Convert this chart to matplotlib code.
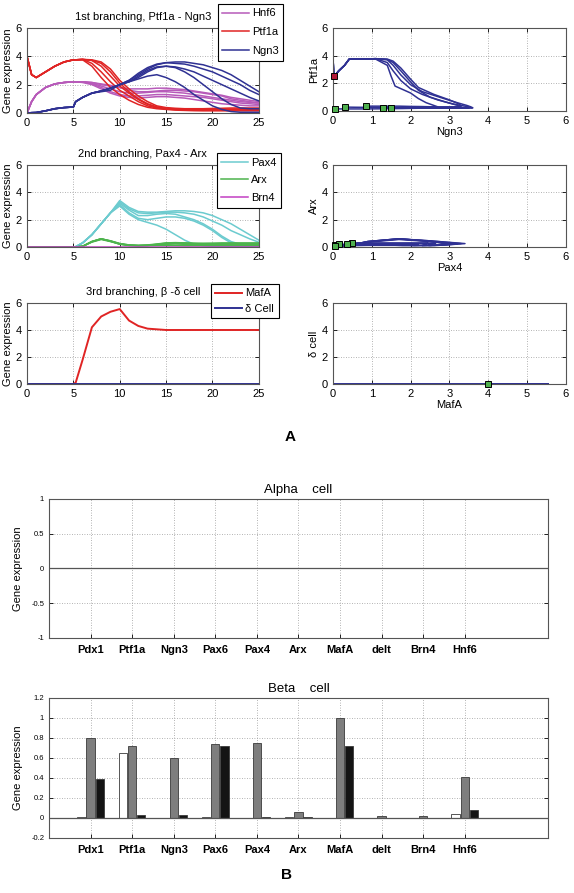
import matplotlib
matplotlib.use('Agg')
import matplotlib.pyplot as plt
import numpy as np

plt.rcParams['font.family'] = ['Liberation Sans', 'DejaVu Sans']

# Zeitachse der Simulation
t = [0, 0.5, 1, 2, 3, 4, 5, 5.25, 6, 7, 8, 9, 10, 11, 12, 13, 14, 15, 16, 17, 18, 19, 20, 21, 22, 23, 24, 25]

# 1. Verzweigung: Hnf6, Ptf1a, Ngn3 (5 Zellen)
hnf6 = [
    [0, 0.8, 1.3, 1.8, 2.05, 2.15, 2.2, 2.2, 2.2, 2.1, 1.9, 1.7, 1.5, 1.4, 1.4, 1.45, 1.5, 1.5, 1.45, 1.4, 1.3, 1.2, 1.1, 1.0, 0.9, 0.8, 0.75, 0.7],
    [0, 0.8, 1.3, 1.8, 2.05, 2.15, 2.2, 2.2, 2.2, 2.15, 2.0, 1.9, 1.8, 1.7, 1.7, 1.7, 1.75, 1.75, 1.7, 1.65, 1.55, 1.45, 1.35, 1.25, 1.1, 1.0, 0.9, 0.8],
    [0, 0.8, 1.3, 1.8, 2.05, 2.15, 2.2, 2.2, 2.2, 2.05, 1.8, 1.5, 1.3, 1.2, 1.2, 1.25, 1.3, 1.3, 1.25, 1.2, 1.15, 1.1, 1.0, 0.9, 0.8, 0.7, 0.65, 0.6],
    [0, 0.8, 1.3, 1.8, 2.05, 2.15, 2.2, 2.2, 2.2, 2.15, 2.05, 1.95, 1.8, 1.6, 1.5, 1.5, 1.55, 1.6, 1.6, 1.55, 1.5, 1.4, 1.3, 1.2, 1.0, 0.9, 0.8, 0.7],
    [0, 0.8, 1.3, 1.8, 2.05, 2.15, 2.2, 2.2, 2.15, 2.0, 1.7, 1.4, 1.2, 1.1, 1.05, 1.1, 1.15, 1.15, 1.1, 1.05, 0.95, 0.85, 0.75, 0.65, 0.6, 0.55, 0.5, 0.5],
]
ptf1a = [
    [4.0, 2.7, 2.5, 2.9, 3.3, 3.6, 3.75, 3.75, 3.78, 3.5, 2.9, 2.2, 1.6, 1.2, 0.8, 0.5, 0.35, 0.28, 0.24, 0.22, 0.2, 0.2, 0.2, 0.2, 0.2, 0.2, 0.2, 0.2],
    [4.0, 2.7, 2.5, 2.9, 3.3, 3.6, 3.75, 3.75, 3.78, 3.7, 3.3, 2.6, 1.9, 1.4, 0.95, 0.6, 0.4, 0.3, 0.27, 0.25, 0.25, 0.25, 0.25, 0.25, 0.25, 0.25, 0.25, 0.25],
    [4.0, 2.7, 2.5, 2.9, 3.3, 3.6, 3.75, 3.75, 3.78, 3.75, 3.6, 3.1, 2.3, 1.7, 1.2, 0.8, 0.5, 0.38, 0.33, 0.3, 0.3, 0.3, 0.32, 0.33, 0.35, 0.35, 0.35, 0.35],
    [4.0, 2.7, 2.5, 2.9, 3.3, 3.6, 3.75, 3.75, 3.78, 3.72, 3.5, 2.9, 2.1, 1.5, 1.0, 0.65, 0.42, 0.32, 0.28, 0.26, 0.25, 0.25, 0.25, 0.26, 0.27, 0.28, 0.28, 0.28],
    [4.0, 2.7, 2.5, 2.9, 3.3, 3.6, 3.75, 3.75, 3.75, 3.3, 2.5, 1.8, 1.3, 0.9, 0.6, 0.4, 0.3, 0.25, 0.2, 0.18, 0.16, 0.15, 0.15, 0.15, 0.15, 0.15, 0.15, 0.15],
]
ngn3 = [
    [0, 0.02, 0.03, 0.15, 0.3, 0.38, 0.42, 0.8, 1.1, 1.4, 1.55, 1.75, 2.0, 2.3, 2.7, 3.1, 3.4, 3.55, 3.6, 3.6, 3.5, 3.4, 3.2, 3.0, 2.7, 2.3, 1.9, 1.5],
    [0, 0.02, 0.03, 0.15, 0.3, 0.38, 0.42, 0.8, 1.1, 1.4, 1.55, 1.75, 2.0, 2.3, 2.8, 3.2, 3.45, 3.55, 3.5, 3.45, 3.3, 3.1, 2.9, 2.6, 2.3, 2.0, 1.6, 1.3],
    [0, 0.02, 0.03, 0.15, 0.3, 0.38, 0.42, 0.8, 1.1, 1.4, 1.55, 1.75, 2.0, 2.2, 2.6, 3.0, 3.25, 3.3, 3.25, 3.1, 2.9, 2.6, 2.3, 2.0, 1.7, 1.4, 1.1, 0.85],
    [0, 0.02, 0.03, 0.15, 0.3, 0.38, 0.42, 0.8, 1.1, 1.4, 1.55, 1.75, 2.0, 2.2, 2.5, 2.9, 3.2, 3.3, 3.2, 2.9, 2.5, 2.0, 1.5, 1.0, 0.6, 0.35, 0.3, 0.3],
    [0, 0.02, 0.03, 0.15, 0.3, 0.38, 0.42, 0.8, 1.1, 1.4, 1.5, 1.6, 2.0, 2.2, 2.4, 2.6, 2.7, 2.5, 2.2, 1.8, 1.3, 0.9, 0.5, 0.25, 0.1, 0.05, 0.05, 0.05],
]

# 2. Verzweigung: Pax4, Arx, Brn4
pax4 = [
    [0, 0, 0, 0, 0, 0, 0, 0.02, 0.3, 0.9, 1.7, 2.5, 3.4, 2.9, 2.6, 2.55, 2.55, 2.6, 2.65, 2.65, 2.6, 2.5, 2.3, 2.0, 1.7, 1.3, 0.9, 0.5],
    [0, 0, 0, 0, 0, 0, 0, 0.02, 0.3, 0.9, 1.7, 2.5, 3.3, 2.8, 2.5, 2.45, 2.5, 2.55, 2.55, 2.5, 2.4, 2.2, 1.9, 1.6, 1.2, 0.9, 0.6, 0.35],
    [0, 0, 0, 0, 0, 0, 0, 0.02, 0.3, 0.9, 1.7, 2.5, 3.1, 2.5, 2.1, 2.0, 2.1, 2.2, 2.2, 2.1, 1.9, 1.6, 1.2, 0.7, 0.3, 0.1, 0.05, 0.05],
    [0, 0, 0, 0, 0, 0, 0, 0.02, 0.3, 0.9, 1.7, 2.5, 3.2, 2.7, 2.3, 2.3, 2.4, 2.45, 2.4, 2.2, 2.0, 1.7, 1.3, 0.8, 0.4, 0.2, 0.15, 0.15],
    [0, 0, 0, 0, 0, 0, 0, 0.02, 0.3, 0.9, 1.7, 2.5, 3.0, 2.4, 2.0, 1.8, 1.6, 1.3, 0.9, 0.5, 0.2, 0.1, 0.05, 0.05, 0.05, 0.05, 0.05, 0.05],
]
arx = [
    [0, 0, 0, 0, 0, 0, 0, 0, 0.05, 0.4, 0.6, 0.45, 0.25, 0.15, 0.12, 0.15, 0.22, 0.3, 0.32, 0.3, 0.28, 0.27, 0.28, 0.3, 0.3, 0.3, 0.3, 0.3],
    [0, 0, 0, 0, 0, 0, 0, 0, 0.05, 0.38, 0.58, 0.45, 0.25, 0.15, 0.1, 0.12, 0.18, 0.25, 0.28, 0.27, 0.25, 0.25, 0.25, 0.25, 0.25, 0.25, 0.25, 0.25],
    [0, 0, 0, 0, 0, 0, 0, 0, 0.05, 0.4, 0.6, 0.42, 0.22, 0.12, 0.1, 0.12, 0.15, 0.2, 0.22, 0.2, 0.18, 0.16, 0.15, 0.15, 0.15, 0.15, 0.15, 0.15],
    [0, 0, 0, 0, 0, 0, 0, 0, 0.05, 0.36, 0.55, 0.4, 0.22, 0.12, 0.1, 0.12, 0.2, 0.28, 0.3, 0.28, 0.25, 0.22, 0.2, 0.2, 0.2, 0.2, 0.2, 0.2],
    [0, 0, 0, 0, 0, 0, 0, 0, 0.05, 0.4, 0.6, 0.42, 0.2, 0.12, 0.1, 0.1, 0.12, 0.12, 0.12, 0.1, 0.1, 0.1, 0.1, 0.1, 0.1, 0.1, 0.1, 0.1],
]
brn4 = [0] * 28

# 3. Verzweigung: MafA, delta-Zelle
mafa = [0, 0, 0, 0, 0, 0, 0, 0.1, 1.8, 4.2, 5.0, 5.35, 5.55, 4.7, 4.3, 4.1, 4.05, 4.0, 4.0, 4.0, 4.0, 4.0, 4.0, 4.0, 4.0, 4.0, 4.0, 4.0]
delta = [0] * 28

# Balkendiagramme
genes = ['Pdx1', 'Ptf1a', 'Ngn3', 'Pax6', 'Pax4', 'Arx', 'MafA', 'delt', 'Brn4', 'Hnf6']
alpha_white = [0, 0, 0, 0, 0, 0, 0, 0, 0, 0]
alpha_gray = [0, 0, 0, 0, 0, 0, 0, 0, 0, 0]
alpha_black = [0, 0, 0, 0, 0, 0, 0, 0, 0, 0]
beta_white = [0.005, 0.65, 0, 0.005, 0, 0.005, 0, 0.003, -0.005, 0.04]
beta_gray = [0.80, 0.72, 0.60, 0.74, 0.745, 0.055, 1.0, 0.02, 0.02, 0.41]
beta_black = [0.39, 0.03, 0.03, 0.72, 0.005, 0.01, 0.72, 0.0, -0.005, 0.08]

c_hnf6 = '#b75ab9'
c_ptf1a = '#e02424'
c_ngn3 = '#2f3193'
c_pax4 = '#6ccbcf'
c_arx = '#4db34d'
c_brn4 = '#c23fc2'
c_green = '#4fb04f'
gridkw = dict(color='#9a9a9a', linestyle=(0, (1, 2)), linewidth=0.6)


def style(ax, fs=8):
    ax.grid(True, **gridkw)
    ax.set_axisbelow(True)
    ax.tick_params(direction='in', top=True, right=True, length=3, labelsize=fs, width=0.6)
    for s in ax.spines.values():
        s.set_color('#555555')
        s.set_linewidth(0.8)


def legend(ax, x, y, handles, labels, spacing=0.5):
    leg = ax.legend(handles, labels, loc='upper left', bbox_to_anchor=(x, y), borderaxespad=0,
                    fancybox=False, framealpha=1, edgecolor='black', fontsize=8,
                    handlelength=2.4, handletextpad=0.3, labelspacing=spacing, borderpad=0.4)
    leg.get_frame().set_linewidth(0.8)
    leg.set_zorder(10)


def squares(ax, x, y, face):
    ax.plot(x, y, 's', ms=5, mfc=face, mec='black', mew=0.7, zorder=5, clip_on=False)


fig = plt.figure(figsize=(5.74, 8.93), dpi=100)
lw = 1.1

# Zeitverlauf 1
ax1 = fig.add_axes([0.047, 0.8735, 0.404, 0.0952])
for y in hnf6:
    h1, = ax1.plot(t, y, color=c_hnf6, lw=lw)
for y in ptf1a:
    h2, = ax1.plot(t, y, color=c_ptf1a, lw=lw)
for y in ngn3:
    h3, = ax1.plot(t, y, color=c_ngn3, lw=lw)
ax1.set_xlim(0, 25)
ax1.set_ylim(0, 6)
ax1.set_xticks([0, 5, 10, 15, 20, 25])
ax1.set_yticks([0, 2, 4, 6])
ax1.set_ylabel('Gene expression', fontsize=8, labelpad=2)
ax1.set_title('1st branching, Ptf1a - Ngn3', fontsize=8, pad=6)
style(ax1)
legend(ax1, 0.823, 1.282, [h1, h2, h3], ['Hnf6', 'Ptf1a', 'Ngn3'], spacing=0.8)

# Phasenraum 1
ax2 = fig.add_axes([0.580, 0.8757, 0.406, 0.0930])
for x, y in zip(ngn3, ptf1a):
    ax2.plot(x, y, color=c_ngn3, lw=lw)
squares(ax2, [ngn3[0][2]], [ptf1a[0][2]], '#b01838')
squares(ax2, [x[-1] for x in ngn3], [y[-1] for y in ptf1a], c_green)
ax2.set_xlim(0, 6)
ax2.set_ylim(0, 6)
ax2.set_xticks(range(7))
ax2.set_yticks([0, 2, 4, 6])
ax2.set_xlabel('Ngn3', fontsize=8, labelpad=1)
ax2.set_ylabel('Ptf1a', fontsize=8, labelpad=2)
style(ax2)

# Zeitverlauf 2
ax3 = fig.add_axes([0.047, 0.7234, 0.404, 0.0918])
for y in pax4:
    h1, = ax3.plot(t, y, color=c_pax4, lw=lw)
for y in arx:
    h2, = ax3.plot(t, y, color=c_arx, lw=lw)
h3, = ax3.plot(t, brn4, color=c_brn4, lw=lw)
ax3.set_xlim(0, 25)
ax3.set_ylim(0, 6)
ax3.set_xticks([0, 5, 10, 15, 20, 25])
ax3.set_yticks([0, 2, 4, 6])
ax3.set_ylabel('Gene expression', fontsize=8, labelpad=2)
ax3.set_title('2nd branching, Pax4 - Arx', fontsize=8, pad=6)
style(ax3)
legend(ax3, 0.819, 1.146, [h1, h2, h3], ['Pax4', 'Arx', 'Brn4'], spacing=0.7)

# Phasenraum 2
ax4 = fig.add_axes([0.580, 0.7234, 0.406, 0.0918])
for x, y in zip(pax4, arx):
    ax4.plot(x, y, color=c_ngn3, lw=lw)
squares(ax4, [x[-1] for x in pax4], [y[-1] for y in arx], c_green)
ax4.set_xlim(0, 6)
ax4.set_ylim(0, 6)
ax4.set_xticks(range(7))
ax4.set_yticks([0, 2, 4, 6])
ax4.set_xlabel('Pax4', fontsize=8, labelpad=1)
ax4.set_ylabel('Arx', fontsize=8, labelpad=2)
style(ax4)

# Zeitverlauf 3
ax5 = fig.add_axes([0.047, 0.570, 0.404, 0.0907])
h1, = ax5.plot(t, mafa, color=c_ptf1a, lw=1.4)
h2, = ax5.plot(t, delta, color=c_ngn3, lw=1.4)
ax5.set_xlim(0, 25)
ax5.set_ylim(0, 6)
ax5.set_xticks([0, 5, 10, 15, 20, 25])
ax5.set_yticks([0, 2, 4, 6])
ax5.set_ylabel('Gene expression', fontsize=8, labelpad=2)
ax5.set_title('3rd branching, β -δ cell', fontsize=8, pad=6)
style(ax5)
legend(ax5, 0.793, 1.235, [h1, h2], ['MafA', 'δ Cell'], spacing=0.5)

# Phasenraum 3
ax6 = fig.add_axes([0.580, 0.570, 0.406, 0.0907])
ax6.plot(mafa, delta, color=c_ngn3, lw=1.4)
squares(ax6, [mafa[-1]], [delta[-1]], c_green)
ax6.set_xlim(0, 6)
ax6.set_ylim(0, 6)
ax6.set_xticks(range(7))
ax6.set_yticks([0, 2, 4, 6])
ax6.set_xlabel('MafA', fontsize=8, labelpad=1)
ax6.set_ylabel('δ cell', fontsize=8, labelpad=2)
style(ax6)

fig.text(0.505, 0.511, 'A', fontsize=11, fontweight='bold', ha='center', va='center')

# Balkendiagramme Alpha / Beta
pos = np.arange(1, len(genes) + 1)
w = 0.2
for rect, title, vals, ylim, yt in [
        ([0.0854, 0.2856, 0.869, 0.1557], 'Alpha    cell', (alpha_white, alpha_gray, alpha_black), (-1, 1), [-1, -0.5, 0, 0.5, 1]),
        ([0.0854, 0.0616, 0.869, 0.1568], 'Beta    cell', (beta_white, beta_gray, beta_black), (-0.2, 1.2), [-0.2, 0, 0.2, 0.4, 0.6, 0.8, 1, 1.2])]:
    ax = fig.add_axes(rect)
    for off, v, col in zip([-0.22, 0, 0.22], vals, ['white', '#7e7e7e', '#141414']):
        ax.bar(pos + off, v, width=w, color=col, edgecolor='#3a3a3a', linewidth=0.6, zorder=3)
    ax.axhline(0, color='#555555', lw=0.9, zorder=4)
    ax.set_xlim(0, 12)
    ax.set_ylim(*ylim)
    ax.set_xticks(pos)
    ax.set_xticklabels(genes, fontsize=8, fontweight='bold')
    ax.set_yticks(yt)
    ax.set_yticklabels([('%g' % v) for v in yt])
    style(ax, fs=5.5)
    ax.tick_params(axis='x', labelsize=8, pad=5, top=False)
    ax.set_ylabel('Gene expression', fontsize=8, labelpad=6)
    ax.set_title(title, fontsize=9.5, pad=4)

fig.text(0.5, 0.012, 'B', fontsize=11, fontweight='bold', ha='center', va='bottom')

plt.savefig('out.png', dpi=100)
